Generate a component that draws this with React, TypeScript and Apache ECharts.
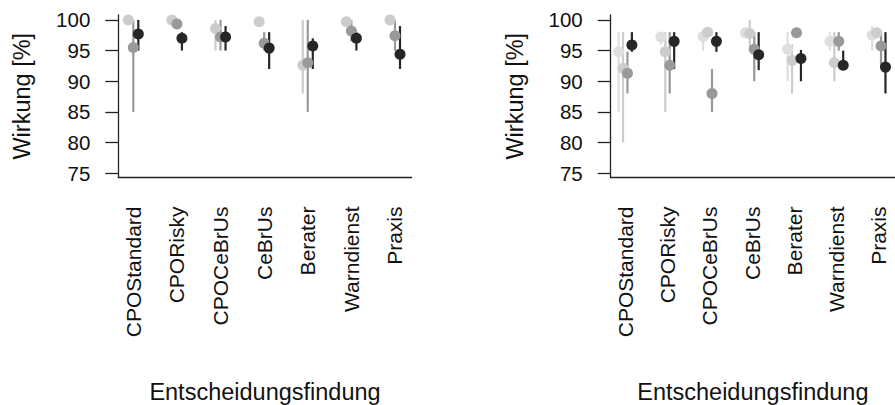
import React, { useEffect, useRef } from "react";
import * as echarts from "echarts";

const categories = ["CPOStandard", "CPORisky", "CPOCeBrUs", "CeBrUs", "Berater", "Warndienst", "Praxis"];
const tickValues = [75, 80, 85, 90, 95, 100];
const yTitle = "Wirkung [%]";
const xTitle = "Entscheidungsfindung";

// Left panel: three groups
const left1Mean = [100, 100, 98.6, 99.7, 92.6, 99.7, 100];
const left1Lo = [100, 100, 95, 99.7, 88, 99.7, 100];
const left1Hi = [100, 100, 100, 99.7, 100, 99.7, 100];

const left2Mean = [95.5, 99.35, 97.2, 96.2, 93.0, 98.2, 97.4];
const left2Lo = [85, 99.35, 95, 95, 85, 96.5, 95];
const left2Hi = [100, 99.35, 100, 98, 100, 100, 100];

const left3Mean = [97.7, 97.0, 97.2, 95.4, 95.75, 97.0, 94.4];
const left3Lo = [95, 95, 95, 92, 92, 95, 92];
const left3Hi = [100, 98, 99, 98, 97, 98, 99];

// Right panel: four groups
const right1Mean = [94.8, 97.2, 97.3, 97.9, 95.2, 96.5, 97.5];
const right1Lo = [85, 96, 95, 97.9, 90, 95, 95];
const right1Hi = [98, 98, 98, 97.9, 98, 98, 99];

const right2Mean = [92.1, 94.8, 98.0, 97.8, 93.4, 93.0, 97.9];
const right2Lo = [80, 85, 98.0, 95, 88, 90, 97.9];
const right2Hi = [98, 98, 98.0, 100, 96, 98, 97.9];

const right3Mean = [91.3, 92.6, 88.0, 95.2, 97.9, 96.5, 95.75];
const right3Lo = [88, 88, 85, 90, 97.9, 95, 92.5];
const right3Hi = [94.8, 98, 92, 98, 97.9, 98, 98];

const right4Mean = [95.9, 96.5, 96.5, 94.3, 93.7, 92.6, 92.3];
const right4Lo = [94.8, 92, 94.8, 91.8, 90, 92, 88];
const right4Hi = [98, 98, 98, 98, 95.1, 95, 98];

const leftColors = ["#cccccc", "#999999", "#262626"];
const rightColors = ["#dedede", "#cccccc", "#999999", "#262626"];

const FONT = "Liberation Sans, Arial, Helvetica, sans-serif";

export default function App() {
  const ref = useRef<HTMLDivElement>(null);

  useEffect(() => {
    if (!ref.current) return;
    const chart = echarts.init(ref.current, null, { renderer: "svg" });

    const leftGroups = [
      { mean: left1Mean, lo: left1Lo, hi: left1Hi },
      { mean: left2Mean, lo: left2Lo, hi: left2Hi },
      { mean: left3Mean, lo: left3Lo, hi: left3Hi },
    ];
    const rightGroups = [
      { mean: right1Mean, lo: right1Lo, hi: right1Hi },
      { mean: right2Mean, lo: right2Lo, hi: right2Hi },
      { mean: right3Mean, lo: right3Lo, hi: right3Hi },
      { mean: right4Mean, lo: right4Lo, hi: right4Hi },
    ];

    const series: any[] = [];
    const addPanel = (groups: any[], colors: string[], axisIndex: number, dodge: number) => {
      const n = groups.length;
      groups.forEach((g, k) => {
        const off = (k - (n - 1) / 2) * dodge;
        const color = colors[k];
        series.push({
          type: "custom",
          xAxisIndex: axisIndex,
          yAxisIndex: axisIndex,
          silent: true,
          data: categories.map((_, i) => [i + 1 + off, g.lo[i], g.hi[i]]),
          renderItem: (params: any, api: any) => {
            const x = api.value(0);
            const p1 = api.coord([x, api.value(1)]);
            const p2 = api.coord([x, api.value(2)]);
            return {
              type: "line",
              shape: { x1: p1[0], y1: p1[1], x2: p2[0], y2: p2[1] },
              style: { stroke: color, lineWidth: 2.2 },
            };
          },
        });
        series.push({
          type: "scatter",
          xAxisIndex: axisIndex,
          yAxisIndex: axisIndex,
          symbol: "circle",
          symbolSize: 11,
          itemStyle: { color, opacity: 1 },
          data: categories.map((_, i) => [i + 1 + off, g.mean[i]]),
        });
      });
    };
    addPanel(leftGroups, leftColors, 0, 0.115);
    addPanel(rightGroups, rightColors, 1, 0.105);

    const mkX = (gridIndex: number) => ({
      type: "value",
      gridIndex,
      min: 0.656,
      max: 7.383,
      splitLine: { show: false },
      axisLine: { show: true, onZero: false, lineStyle: { color: "#222", width: 1.3 } },
      axisTick: { show: false },
      axisLabel: {
        customValues: [1, 2, 3, 4, 5, 6, 7],
        formatter: (v: number) => categories[Math.round(v) - 1] ?? "",
        rotate: 90,
        margin: 29,
        fontSize: 21,
        color: "#111",
        fontFamily: FONT,
      },
      name: xTitle,
      nameLocation: "middle",
      nameGap: 202,
      nameTextStyle: { fontSize: 23.5, color: "#111", fontFamily: FONT },
    });
    const mkY = (gridIndex: number) => ({
      type: "value",
      gridIndex,
      min: 74.3,
      max: 100.8,
      splitLine: { show: false },
      axisLine: { show: true, onZero: false, lineStyle: { color: "#222", width: 1.3 } },
      axisTick: { show: true, customValues: tickValues, length: 13, lineStyle: { color: "#222", width: 1.3 } },
      axisLabel: {
        customValues: tickValues,
        margin: 28,
        fontSize: 20.5,
        color: "#111",
        fontFamily: FONT,
      },
      name: yTitle,
      nameLocation: "middle",
      nameGap: 84,
      nameTextStyle: { fontSize: 23.5, color: "#111", fontFamily: FONT },
    });

    chart.setOption({
      animation: false,
      backgroundColor: "#ffffff",
      textStyle: { fontFamily: FONT },
      grid: [
        { left: 118.3, top: 15, width: 293.4, height: 162.5 },
        { left: 610.7, top: 15, width: 293.4, height: 162.5 },
      ],
      xAxis: [mkX(0), mkX(1)],
      yAxis: [mkY(0), mkY(1)],
      series,
    });

    return () => chart.dispose();
  }, []);

  return (
    <div
      ref={ref}
      style={{ position: "fixed", left: 0, top: 0, width: 895, height: 405, background: "#fff" }}
    />
  );
}
